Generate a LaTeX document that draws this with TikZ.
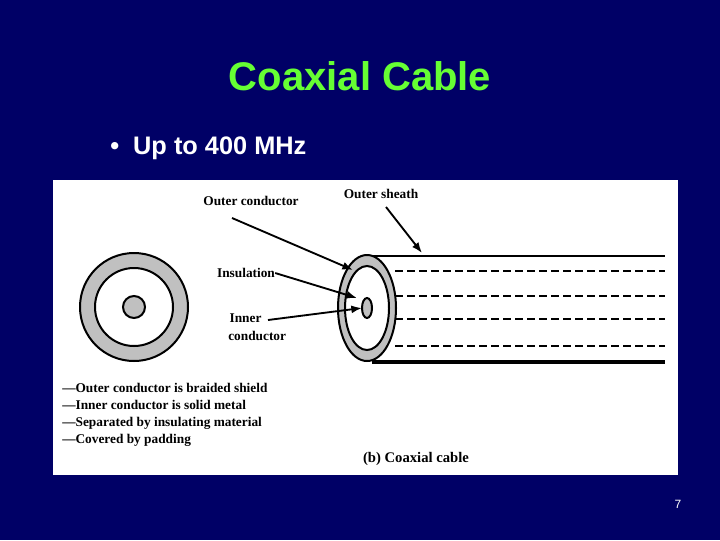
\documentclass[tikz,border=0pt]{standalone}
\usepackage{fontspec}
\setmainfont{Liberation Serif}
\newfontfamily\arialf{Liberation Sans}
\definecolor{navy}{HTML}{000066}
\definecolor{titlegreen}{HTML}{66FF33}
\definecolor{ringgray}{HTML}{C0C0C0}
\begin{document}
\begin{tikzpicture}[x=0.75pt,y=-0.75pt,
  lbl/.style={font=\bfseries\fontsize{10}{11}\selectfont, inner sep=0pt},
  arr/.style={-{Latex[length=8pt,width=6pt]}, line width=1.4pt},
  ring/.style={draw=black, line width=1.5pt}]
\usetikzlibrary{arrows.meta}
\fill[navy] (0,0) rectangle (720,540);
\useasboundingbox (0,0) rectangle (720,540);
\node[text=titlegreen, font=\arialf\bfseries\fontsize{30}{34}\selectfont] (title) at (360,76) {Coaxial Cable};
\node[text=white, font=\arialf\bfseries\fontsize{19}{22}\selectfont, anchor=west, inner sep=0pt] (bul) at (110,148) {\textbullet\ \ Up to 400 MHz};
\node[text=white, font=\arialf\fontsize{9}{10}\selectfont] (pg) at (678,504) {7};
\fill[white] (53,180) rectangle (678,475);
% left cross-section
\filldraw[ring, fill=ringgray] (134,307) circle (54);
\filldraw[ring, fill=white] (134,307) circle (39);
\filldraw[ring, fill=ringgray] (134,307) circle (11);
% right cable
\draw[line width=1.5pt] (372,256) -- (665,256);
\draw[line width=2.5pt] (372,362) -- (665,362);
\foreach \yy in {271,296,319,346} \draw[line width=1.2pt, dash pattern=on 6pt off 3pt] (395,\yy) -- (665,\yy);
\filldraw[ring, fill=ringgray] (367,308) ellipse (29 and 53);
\filldraw[ring, fill=white] (367,308) ellipse (22 and 42);
\filldraw[ring, fill=ringgray] (367,308) ellipse (5 and 10);
\coordinate (oc) at (353,270);
\coordinate (os) at (422,253);
\coordinate (ins) at (357,298);
\coordinate (inn) at (362,308);
\node[lbl] (loc) at (251,201) {Outer conductor};
\node[lbl] (los) at (381,194) {Outer sheath};
\node[lbl] (lins) at (246,273) {Insulation};
\node[lbl, align=left, anchor=north west, font=\bfseries\fontsize{10}{14}\selectfont] (linn) at (228,313) {\hspace{1pt}Inner\\conductor};
\draw[arr] (232,218) -- (oc);
\draw[arr] (386,207) -- (os);
\draw[arr] (lins.east) -- (ins);
\draw[arr] (268,320) -- (inn);
\node[lbl, anchor=north west, align=left, font=\bfseries\fontsize{10}{12.8}\selectfont] (notes) at (62,383) {---Outer conductor is braided shield\\---Inner conductor is solid metal\\---Separated by insulating material\\---Covered by padding};
\node[lbl, font=\bfseries\fontsize{11}{12}\selectfont] (cap) at (416,459) {(b) Coaxial cable};
\end{tikzpicture}
\end{document}
